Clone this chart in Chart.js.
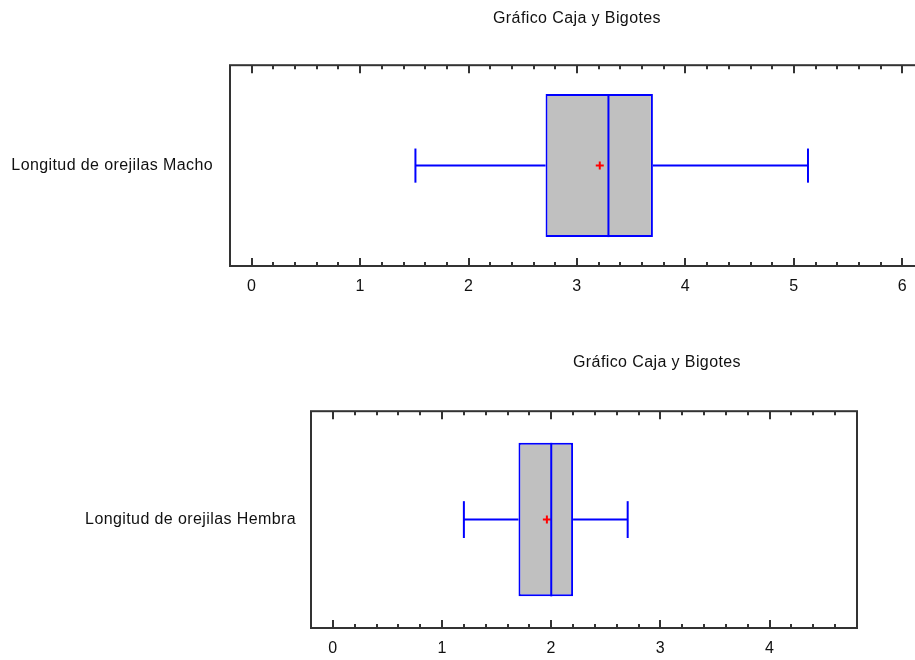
<!DOCTYPE html>
<html><head><meta charset="utf-8">
<script src="https://cdn.jsdelivr.net/npm/chart.js@4.4.1/dist/chart.umd.min.js"></script>
<style>
html,body{margin:0;padding:0;background:#fff;overflow:hidden;width:915px;height:660px;position:relative;}
canvas{position:absolute;left:0;}
#c1{top:0;}
#c2{top:330px;}
</style></head><body>
<canvas id="c1" width="930" height="310"></canvas>
<canvas id="c2" width="1314" height="330"></canvas>
<script>
// ---- data ----
const chartTitle = 'Gráfico Caja y Bigotes';
const categoriesMacho = ['Longitud de orejilas Macho'];
const categoriesHembra = ['Longitud de orejilas Hembra'];
// [lower whisker, Q1, median, Q3, upper whisker]
const machoStats = [1.51, 2.71, 3.29, 3.70, 5.13];
const machoMean = [3.21];
const hembraStats = [1.20, 1.70, 2.00, 2.20, 2.70];
const hembraMean = [1.96];
const xTicksMacho = [0, 1, 2, 3, 4, 5, 6];
const xTicksHembra = [0, 1, 2, 3, 4];

Chart.defaults.font.family = "'Liberation Sans', Arial, sans-serif";
Chart.defaults.font.size = 16;
Chart.defaults.color = '#111';

const spacingPlugin = {
  id: 'spacing',
  beforeDraw(chart) { chart.ctx.letterSpacing = '0.4px'; }
};

const framePlugin = {
  id: 'frame',
  afterDatasetsDraw(chart) {
    const {ctx, chartArea: a, scales: {x}} = chart;
    ctx.save();
    ctx.strokeStyle = '#333';
    ctx.lineWidth = 2;
    ctx.strokeRect(a.left, a.top, a.right - a.left, a.bottom - a.top);
    const step = 0.2;
    for (let k = Math.ceil(x.min / step - 1e-6); k * step <= x.max + 1e-9; k++) {
      const v = k * step;
      const px = Math.round(x.getPixelForValue(v));
      const major = Math.abs(v - Math.round(v)) < 1e-6;
      const len = major ? 8 : 4;
      ctx.beginPath();
      ctx.moveTo(px, a.top); ctx.lineTo(px, a.top + len);
      ctx.moveTo(px, a.bottom); ctx.lineTo(px, a.bottom - len);
      ctx.stroke();
    }
    ctx.restore();
  }
};

function build(id, labels, stats, mean, ticks, o) {
  const [lo, q1, md, q3, hi] = stats;
  const H = o.boxHalf, C = o.capHalf;
  const blue = '#0000ff';
  const seg = (pts) => ({
    type: 'scatter', data: pts, showLine: true, borderColor: blue, borderWidth: 2,
    pointRadius: 0, order: 1, clip: false
  });
  const scales = {
    x: {
      type: 'linear', min: o.xMin, max: o.xMax, offset: false, bounds: 'data',
      afterBuildTicks: s => { s.ticks = ticks.map(v => ({value: v})); },
      afterFit: s => { s.height = o.xHeight; },
      grid: {display: false, drawTicks: false, offset: false}, border: {display: false},
      ticks: {padding: o.xPad, color: '#111', font: {size: 16}}
    },
    y: {
      type: 'linear', min: -0.5, max: 0.5, offset: false, bounds: 'data',
      afterBuildTicks: s => { s.ticks = [{value: 0}]; },
      afterFit: s => { s.width = o.yWidth; },
      grid: {display: false, drawTicks: false, offset: false}, border: {display: false},
      ticks: {padding: o.yPad, callback: () => labels[0], color: '#111', font: {size: 16}}
    }
  };
  if (o.rightWidth) {
    scales.yR = {
      type: 'linear', position: 'right', display: true,
      afterFit: s => { s.width = o.rightWidth; },
      grid: {display: false, drawTicks: false}, border: {display: false},
      ticks: {display: false}
    };
  }
  return new Chart(document.getElementById(id), {
    type: 'bar',
    data: {
      datasets: [
        {type: 'bar', data: [{x: [q1, q3], y: 0}], backgroundColor: '#c0c0c0',
         borderColor: blue, borderWidth: 2, borderSkipped: false,
         categoryPercentage: 1, barPercentage: H * 2, order: 3},
        {type: 'scatter', data: [{x: mean[0], y: 0}], pointStyle: 'cross', pointRadius: 4,
         borderColor: '#ff0000', borderWidth: 2, order: 2},
        seg([{x: lo, y: 0}, {x: q1, y: 0}]),
        seg([{x: q3, y: 0}, {x: hi, y: 0}]),
        seg([{x: lo, y: -C}, {x: lo, y: C}]),
        seg([{x: hi, y: -C}, {x: hi, y: C}]),
        seg([{x: md, y: -H}, {x: md, y: H}])
      ]
    },
    options: {
      indexAxis: 'y',
      responsive: false,
      animation: false,
      layout: {padding: {left: 0, right: o.padRight, top: 0, bottom: 0}},
      scales,
      plugins: {
        legend: {display: false},
        tooltip: {enabled: false},
        title: {display: true, text: chartTitle, fullSize: o.titleFull,
          color: '#111', font: {size: 16, weight: 'normal'},
          padding: {top: o.tTop, bottom: o.tBottom}}
      }
    },
    plugins: [spacingPlugin, framePlugin]
  });
}

build('c1', categoriesMacho, machoStats, machoMean, xTicksMacho, {
  xMin: -0.2, xMax: 6.2, xHeight: 44, xPad: 11, yWidth: 230, yPad: 17,
  padRight: 6, titleFull: false, tTop: 9, tBottom: 37,
  boxHalf: 0.356, capHalf: 0.085
});
build('c2', categoriesHembra, hembraStats, hembraMean, xTicksHembra, {
  xMin: -0.2, xMax: 4.8, xHeight: 32, xPad: 11, yWidth: 311, yPad: 15,
  padRight: 0, rightWidth: 457, titleFull: true, tTop: 23, tBottom: 39,
  boxHalf: 0.354, capHalf: 0.085
});
</script>
</body></html>
